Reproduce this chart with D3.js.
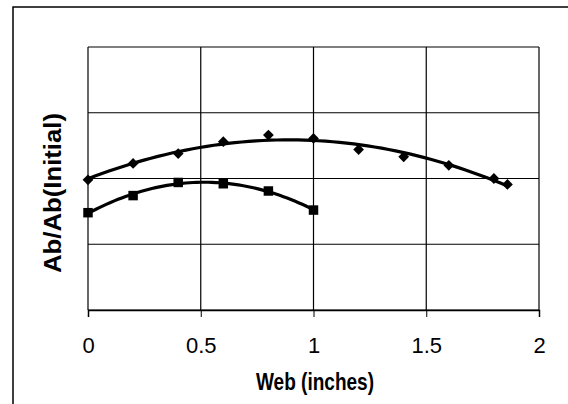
<!DOCTYPE html>
<html>
<head>
<meta charset="utf-8">
<script src="https://cdn.jsdelivr.net/npm/d3@7"></script>
<style>
  body { margin: 0; background: #fff; }
  svg { display: block; }
  text { font-family: "Liberation Sans", Arial, sans-serif; fill: #000; }
</style>
</head>
<body>
<svg id="chart" width="568" height="404"></svg>
<script>
// data
var webDiamond = [0, 0.2, 0.4, 0.6, 0.8, 1.0, 1.2, 1.4, 1.6, 1.8, 1.86];
var abDiamond  = [0.99, 1.115, 1.19, 1.28, 1.33, 1.305, 1.22, 1.165, 1.10, 1.00, 0.955];
var webSquare  = [0, 0.2, 0.4, 0.6, 0.8, 1.0];
var abSquare   = [0.74, 0.87, 0.97, 0.96, 0.905, 0.76];
var xTicks = [0, 0.5, 1, 1.5, 2];
var yTicks = [0, 0.5, 1, 1.5, 2];

var svg = d3.select("#chart");
var margin = {left: 88, top: 47, right: 29, bottom: 94};
var innerWidth = 568 - margin.left - margin.right;
var innerHeight = 404 - margin.top - margin.bottom;

// outer chart frame: only its left and top edges are inside the scan
svg.append("path")
    .attr("d", "M13,404V7H568")
    .attr("fill", "none").attr("stroke", "#000").attr("stroke-width", 1.5);

var g = svg.append("g").attr("transform", `translate(${margin.left},${margin.top})`);

var x = d3.scaleLinear().domain([0, 2]).range([0, innerWidth]);
var y = d3.scaleLinear().domain([0, 2]).range([innerHeight, 0]);

// grid
g.selectAll(".hgrid").data(yTicks).enter().append("line")
    .attr("x1", 0).attr("x2", innerWidth)
    .attr("y1", d => y(d)).attr("y2", d => y(d))
    .attr("stroke", "#000").attr("stroke-width", 1.2);
g.selectAll(".vgrid").data(xTicks).enter().append("line")
    .attr("y1", 0).attr("y2", innerHeight)
    .attr("x1", d => x(d)).attr("x2", d => x(d))
    .attr("stroke", "#000").attr("stroke-width", 1.2);

// x axis
var xAxis = g.append("g")
    .attr("transform", `translate(0,${innerHeight})`)
    .call(d3.axisBottom(x).tickValues(xTicks).tickFormat(d3.format("")).tickSize(7).tickPadding(20));
xAxis.select(".domain").attr("stroke-width", 1.5);
xAxis.selectAll("text").style("font-size", "22px").style("font-family", "Liberation Sans, Arial, sans-serif");

// trend line: least squares polynomial fit of each series
function polyfit(xs, ys, order) {
    var n = order + 1;
    var A = [], b = [];
    for (var i = 0; i < n; i++) {
        A.push([]);
        for (var j = 0; j < n; j++) A[i].push(d3.sum(xs, v => Math.pow(v, i + j)));
        b.push(d3.sum(xs, (v, k) => ys[k] * Math.pow(v, i)));
    }
    // gaussian elimination
    for (var i = 0; i < n; i++) {
        for (var k = i + 1; k < n; k++) {
            var f = A[k][i] / A[i][i];
            for (var j = i; j < n; j++) A[k][j] -= f * A[i][j];
            b[k] -= f * b[i];
        }
    }
    var c = new Array(n).fill(0);
    for (var i = n - 1; i >= 0; i--) {
        var s = b[i];
        for (var j = i + 1; j < n; j++) s -= A[i][j] * c[j];
        c[i] = s / A[i][i];
    }
    return t => c.reduce((acc, ci, i) => acc + ci * Math.pow(t, i), 0);
}

function trend(xs, ys, order) {
    var f = polyfit(xs, ys, order);
    var x0 = d3.min(xs), x1 = d3.max(xs);
    var pts = d3.range(0, 61).map(i => x0 + (x1 - x0) * i / 60);
    g.append("path")
        .datum(pts)
        .attr("fill", "none").attr("stroke", "#000").attr("stroke-width", 3.2)
        .attr("d", d3.line().x(d => x(d)).y(d => y(f(d))));
}

trend(webDiamond, abDiamond, 2);
trend(webSquare, abSquare, 2);

// markers
g.selectAll(".dia").data(webDiamond).enter().append("path")
    .attr("transform", (d, i) => `translate(${x(d)},${y(abDiamond[i])}) rotate(45)`)
    .attr("d", d3.symbol().type(d3.symbolSquare).size(58))
    .attr("fill", "#000");
g.selectAll(".sq").data(webSquare).enter().append("path")
    .attr("transform", (d, i) => `translate(${x(d)},${y(abSquare[i])})`)
    .attr("d", d3.symbol().type(d3.symbolSquare).size(90))
    .attr("fill", "#000");

// axis titles
svg.append("text")
    .attr("x", 315).attr("y", 390)
    .attr("text-anchor", "middle")
    .attr("textLength", 118).attr("lengthAdjust", "spacingAndGlyphs")
    .style("font-size", "23px").style("font-weight", "bold")
    .text("Web (inches)");

svg.append("text")
    .attr("transform", "translate(61,193) rotate(-90)")
    .attr("text-anchor", "middle")
    .attr("textLength", 160).attr("lengthAdjust", "spacingAndGlyphs")
    .style("font-size", "24px").style("font-weight", "bold")
    .text("Ab/Ab(Initial)");
</script>
</body>
</html>
